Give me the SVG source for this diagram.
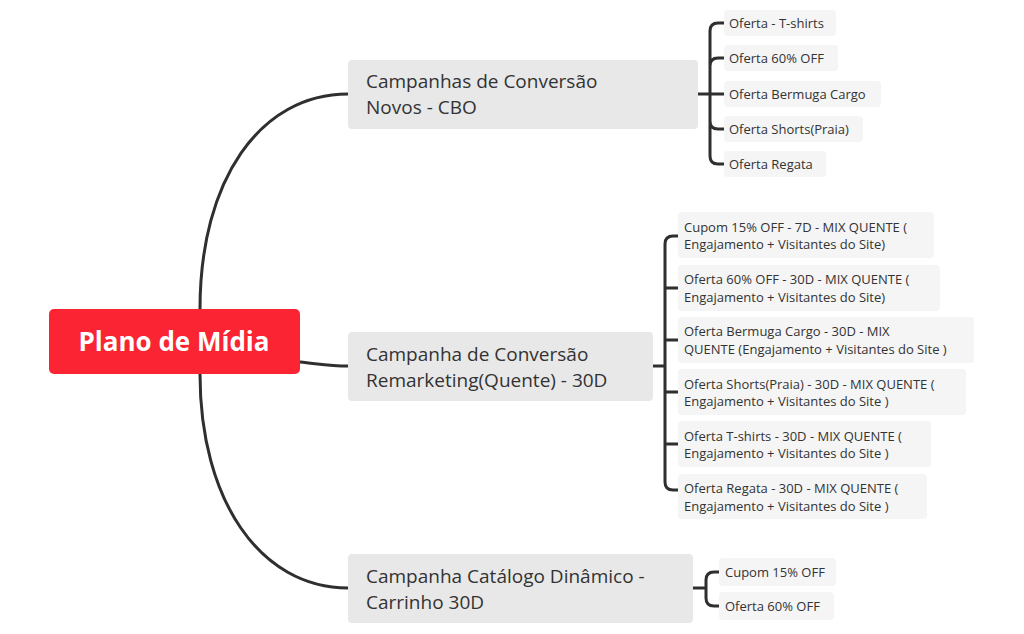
<svg xmlns="http://www.w3.org/2000/svg" width="1024" height="634" viewBox="0 0 1024 634">
<style>
.c{fill:none;stroke:#2f2f2f;stroke-width:3;stroke-linecap:round}
.b{fill:#e8e8e8}
.l{fill:#f5f5f5}
.bt{font-family:"Open Sans","Liberation Sans",sans-serif;font-size:19px;fill:#333}
.lt{font-family:"Open Sans","Liberation Sans",sans-serif;font-size:13px;fill:#333}
</style>
<rect width="1024" height="634" fill="#fff"/>
<g id="connectors">
<path class="c" d="M200,309 C200,180 260,94 348,94"/>
<path class="c" d="M300,362 C320,364 330,366 348,366"/>
<path class="c" d="M200,374 C200,500 260,588 348,588"/>
<path class="c" d="M698,94 H724 M710,94 V31 Q710,23 718,23 H724 M710,66 Q710,58 718,58 H724 M710,121 Q710,129 718,129 H724 M710,94 V156 Q710,164 718,164 H724"/>
<path class="c" d="M653,366 H665 M665,244 Q665,236 673,236 H678 M665,244 V482 Q665,490 673,490 H678 M665,288 H678 M665,340 H678 M665,392 H678 M665,444 H678"/>
<path class="c" d="M693,588 H706 M706,580 Q706,572 714,572 H719 M706,580 V598 Q706,606 714,606 H719"/>
</g>
<g id="root"><rect x="49" y="309" width="251" height="65" rx="5" fill="#fa2432"/><text x="174" y="351" text-anchor="middle" font-family="Open Sans,Liberation Sans,sans-serif" font-size="26" font-weight="bold" fill="#fff">Plano de Mídia</text></g>
<g id="b1"><rect class="b" x="348" y="60" width="350" height="69" rx="4"/><text class="bt" x="366" y="88">Campanhas de Conversão</text><text class="bt" x="366" y="114">Novos - CBO</text></g>
<g id="b2"><rect class="b" x="348" y="332" width="305" height="69" rx="4"/><text class="bt" x="366" y="361">Campanha de Conversão</text><text class="bt" x="366" y="387">Remarketing(Quente) - 30D</text></g>
<g id="b3"><rect class="b" x="348" y="554" width="345" height="69" rx="4"/><text class="bt" x="366" y="583">Campanha Catálogo Dinâmico -</text><text class="bt" x="366" y="609">Carrinho 30D</text></g>
<g id="l1"><rect class="l" x="724" y="10" width="112" height="26" rx="4"/><text class="lt" x="729" y="28">Oferta - T-shirts</text></g>
<g id="l2"><rect class="l" x="724" y="45" width="114" height="26" rx="4"/><text class="lt" x="729" y="63">Oferta 60% OFF</text></g>
<g id="l3"><rect class="l" x="724" y="81" width="157" height="26" rx="4"/><text class="lt" x="729" y="99">Oferta Bermuga Cargo</text></g>
<g id="l4"><rect class="l" x="724" y="116" width="139" height="26" rx="4"/><text class="lt" x="729" y="134">Oferta Shorts(Praia)</text></g>
<g id="l5"><rect class="l" x="724" y="151" width="102" height="26" rx="4"/><text class="lt" x="729" y="169">Oferta Regata</text></g>
<g id="m1"><rect class="l" x="678" y="212" width="256" height="46" rx="4"/><text class="lt" x="684" y="232">Cupom 15% OFF - 7D - MIX QUENTE (</text><text class="lt" x="684" y="249">Engajamento + Visitantes do Site)</text></g>
<g id="m2"><rect class="l" x="678" y="265" width="262" height="46" rx="4"/><text class="lt" x="684" y="284">Oferta 60% OFF - 30D - MIX QUENTE (</text><text class="lt" x="684" y="302">Engajamento + Visitantes do Site)</text></g>
<g id="m3"><rect class="l" x="678" y="317" width="296" height="46" rx="4"/><text class="lt" x="684" y="336">Oferta Bermuga Cargo - 30D - MIX</text><text class="lt" x="684" y="354">QUENTE (Engajamento + Visitantes do Site )</text></g>
<g id="m4"><rect class="l" x="678" y="369" width="288" height="46" rx="4"/><text class="lt" x="684" y="389">Oferta Shorts(Praia) - 30D - MIX QUENTE (</text><text class="lt" x="684" y="406">Engajamento + Visitantes do Site )</text></g>
<g id="m5"><rect class="l" x="678" y="421" width="253" height="46" rx="4"/><text class="lt" x="684" y="441">Oferta T-shirts - 30D - MIX QUENTE (</text><text class="lt" x="684" y="458">Engajamento + Visitantes do Site )</text></g>
<g id="m6"><rect class="l" x="678" y="474" width="249" height="45" rx="4"/><text class="lt" x="684" y="493">Oferta Regata - 30D - MIX QUENTE (</text><text class="lt" x="684" y="511">Engajamento + Visitantes do Site )</text></g>
<g id="n1"><rect class="l" x="719" y="558" width="117" height="28" rx="4"/><text class="lt" x="725" y="577">Cupom 15% OFF</text></g>
<g id="n2"><rect class="l" x="719" y="592" width="115" height="28" rx="4"/><text class="lt" x="725" y="611">Oferta 60% OFF</text></g>
</svg>
